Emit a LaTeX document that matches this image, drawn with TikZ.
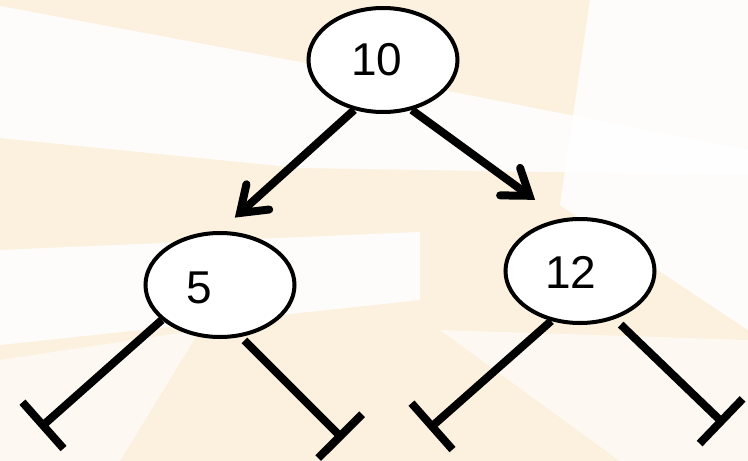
\documentclass[tikz,border=0pt]{standalone}
\usepackage{fontspec}
\setmainfont{Liberation Sans}
\usetikzlibrary{shapes.geometric}
\usetikzlibrary{arrows.meta}

\definecolor{bgcream}{RGB}{252,241,223}

\begin{document}
\begin{tikzpicture}[x=1pt,y=-1pt,
        key/.style={draw,ellipse,fill=white,line width=4pt,minimum width=149pt,minimum height=104pt,inner sep=0pt},
        num/.style={font=\fontsize{46}{46}\selectfont},
        link/.style={line width=8pt},
        ptr/.style={link,-{Straight Barb[length=24pt,width=34pt,line cap=round]}},
        nil/.style={link,-{Bar[width=62pt]}}]
    % faint sunburst behind the tree
    \fill[bgcream] (0,0) rectangle (748,461);
    \fill[white,opacity=0.85] (0,6) -- (300,62) -- (748,150) -- (748,175) -- (300,168) -- (0,138) -- cycle;
    \fill[white,opacity=0.85] (590,0) -- (748,0) -- (748,330) -- (560,205) -- cycle;
    \fill[white,opacity=0.85] (0,250) -- (420,232) -- (420,300) -- (0,345) -- cycle;
    \fill[white,opacity=0.6] (0,360) -- (200,330) -- (120,461) -- (0,461) -- cycle;
    \fill[white,opacity=0.6] (440,330) -- (748,340) -- (748,461) -- (620,461) -- cycle;
    \useasboundingbox (0,0) rectangle (748,461);

    % tree
    \node[key] (n10) at (383,60) {};
    \node[num] (t10) at (377,60) {10};
    \node[key] (n5) at (220,285) {};
    \node[num] (t5) at (199,288) {5};
    \node[key] (n12) at (580,271) {};
    \node[num] (t12) at (571,272) {12};

    \draw[ptr,shorten >=20pt] (n10.240) -- (n5.north);
    \draw[ptr,shorten >=32pt] (n10.300) -- (n12.110);

    % empty subtrees
    \coordinate (e1) at (40,428);
    \coordinate (e2) at (343,439);
    \coordinate (e3) at (429,429);
    \coordinate (e4) at (724,424);
    \draw[nil] (n5.211) -- (e1);
    \draw[nil,shorten <=5pt] (n5.292) -- (e2);
    \draw[nil] (n12.240) -- (e3);
    \draw[nil,shorten <=8pt] (n12.306) -- (e4);
\end{tikzpicture}
\end{document}
